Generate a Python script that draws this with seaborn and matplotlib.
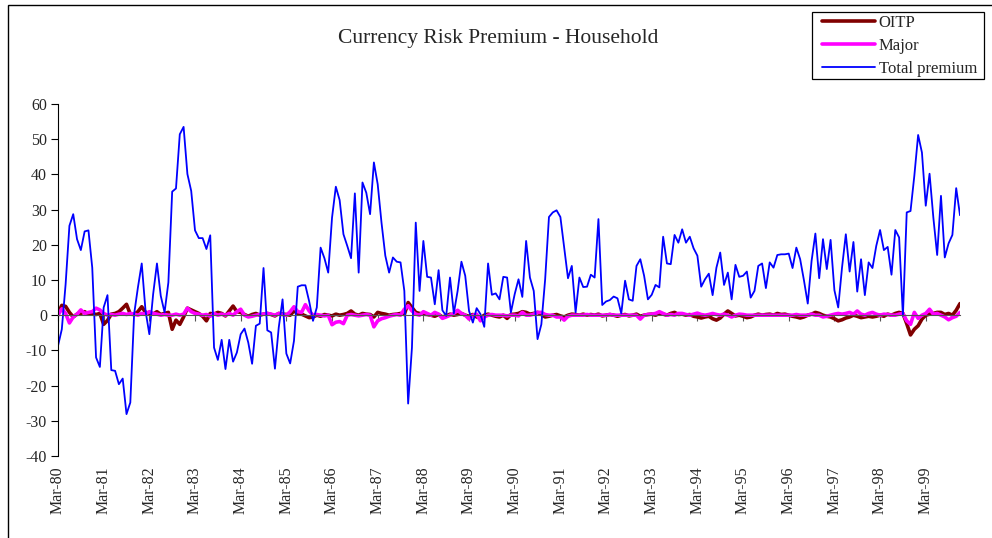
import numpy as np
import pandas as pd
import matplotlib
matplotlib.use("Agg")
import matplotlib.pyplot as plt
import seaborn as sns
from matplotlib.patches import Rectangle

# monthly series, Mar-80 .. Dec-99
total_premium = [
    -8.7, -4.0, 8.8, 25.4, 28.7, 21.6, 18.5, 23.8, 24.1, 13.5, -12.0, -14.7,
    2.2, 5.7, -15.6, -15.8, -19.6, -18.0, -28.1, -24.8, 0.3, 7.9, 14.7, 1.2,
    -5.4, 6.0, 14.7, 5.5, 0.8, 9.3, 35.1, 36.0, 51.4, 53.5, 40.1, 35.3,
    24.1, 21.9, 21.9, 18.8, 22.7, -9.2, -12.7, -7.0, -15.3, -7.0, -13.2, -10.6,
    -5.4, -3.8, -7.8, -13.8, -3.0, -2.4, 13.4, -4.3, -4.9, -15.2, -3.5, 4.5,
    -10.9, -13.7, -7.3, 8.1, 8.5, 8.5, 3.9, -1.6, 2.2, 19.2, 16.2, 12.1,
    27.7, 36.5, 32.7, 23.0, 19.7, 16.2, 34.6, 12.1, 37.7, 34.8, 28.7, 43.4,
    37.2, 26.3, 16.9, 12.1, 16.4, 15.2, 15.0, 6.9, -25.1, -9.2, 26.3, 6.9,
    21.1, 10.9, 10.7, 3.1, 12.8, 1.4, -0.2, 10.7, 0.5, 6.9, 15.2, 11.2,
    1.2, -2.1, 2.0, 0.3, -3.3, 14.7, 5.8, 6.2, 4.5, 10.9, 10.7, 0.8,
    6.0, 10.2, 5.2, 21.1, 10.7, 6.9, -6.8, -2.6, 10.2, 27.9, 29.2, 29.8,
    27.9, 19.2, 10.5, 14.0, 0.8, 10.7, 8.0, 8.1, 11.5, 10.7, 27.3, 2.9,
    3.9, 4.3, 5.3, 4.8, 0.5, 9.8, 4.5, 4.1, 14.0, 15.9, 11.2, 4.5,
    5.8, 8.6, 7.9, 22.3, 14.7, 14.5, 22.8, 20.6, 24.4, 20.6, 22.3, 19.0,
    16.9, 8.1, 10.2, 11.8, 5.7, 13.5, 17.8, 8.6, 12.1, 4.5, 14.3, 10.9,
    11.2, 12.4, 5.0, 6.9, 14.0, 14.7, 7.7, 15.0, 13.5, 17.1, 17.3, 17.3,
    17.5, 13.4, 19.2, 15.9, 9.9, 3.3, 15.4, 23.2, 10.5, 21.6, 13.1, 21.4,
    7.1, 2.2, 13.5, 23.0, 12.4, 20.8, 6.7, 15.9, 5.7, 15.0, 13.4, 19.7,
    24.2, 18.5, 19.4, 11.5, 24.2, 22.1, -0.2, 29.2, 29.6, 39.6, 51.2, 46.2,
    31.1, 40.2, 27.7, 17.1, 33.9, 16.4, 20.4, 22.8, 36.1, 28.4,
]

oitp = [
    0.5, 2.8, 2.5, 0.8, -0.5, 0.3, 0.5, 1.0, 0.3, 0.5, 0.2, 0.5,
    -2.6, -1.5, 0.3, 0.5, 1.0, 2.0, 3.1, 0.3, 0.2, 1.0, 2.4, 0.8,
    0.5, 0.3, 1.0, 0.2, 0.5, 0.8, -4.0, -1.4, -2.6, -0.5, 2.0, 1.5,
    1.0, 0.5, -0.3, -1.6, 0.5, 0.3, 0.8, 0.5, -0.2, 1.2, 2.6, 1.0,
    0.8, 0.2, -0.3, 0.2, 0.5, 0.0, 0.3, 0.5, 0.2, -0.2, 0.5, 0.3,
    0.2, 0.0, 1.2, 0.5, 0.3, -0.2, -0.7, -0.5, 0.0, -0.3, 0.2, 0.0,
    -0.2, 0.3, 0.0, 0.2, 0.5, 1.2, 0.3, 0.0, 0.5, 0.3, 0.2, -0.5,
    0.8, 0.5, 0.3, 0.0, 0.2, 0.3, 0.5, 0.2, 3.6, 2.2, 0.8, 0.5,
    0.3, 0.2, 0.0, -0.3, 0.2, -0.5, -0.2, 0.3, 0.0, 0.2, 0.5, 0.0,
    -0.3, 0.2, -0.5, -0.8, 0.0, 0.3, 0.0, -0.3, -0.5, 0.0, -0.9, 0.2,
    0.3, 0.5, 1.0, 0.8, 0.3, 0.5, 0.8, 0.2, -0.5, -0.3, 0.0, 0.2,
    -0.2, -0.5, 0.0, 0.3, 0.2, 0.0, 0.3, 0.0, 0.2, 0.0, 0.3, -0.2,
    0.0, 0.2, 0.0, -0.3, 0.0, 0.2, -0.2, 0.0, 0.3, -0.3, 0.0, 0.2,
    0.3, 0.0, 0.5, 0.3, 0.0, 0.5, 0.8, 0.2, 0.3, 0.0, 0.2, -0.3,
    -0.5, -0.8, -0.5, -0.3, -1.0, -1.4, -0.8, 0.3, 1.2, 0.5, -0.2, 0.0,
    -0.3, -0.7, -0.5, 0.0, 0.3, 0.0, 0.2, 0.3, 0.0, 0.5, 0.2, 0.3,
    0.0, -0.3, -0.5, -0.8, -0.5, 0.0, 0.3, 0.8, 0.5, 0.0, -0.3, -0.5,
    -1.0, -1.6, -1.3, -0.8, -0.5, 0.0, -0.3, -0.7, -0.5, -0.3, -0.5, -0.3,
    0.0, -0.3, 0.3, 0.0, 0.5, 0.8, 0.5, -2.4, -5.6, -4.0, -3.0, -1.1,
    0.0, 0.3, 0.5, 0.8, 0.8, 0.2, 0.5, 0.0, 1.4, 3.3,
]

major = [
    0.0, 1.8, 0.5, -2.2, -0.5, 0.3, 1.5, 0.5, 0.8, 1.0, 2.0, 1.5,
    0.5, 0.0, 0.2, 0.0, 0.3, 0.5, 0.2, 0.5, 0.3, 0.0, 0.5, 0.3,
    1.0, 0.5, 0.3, 0.0, 0.2, 0.0, 0.0, 0.3, 0.0, 0.3, 2.0, 1.0,
    0.5, 0.3, 0.0, 0.2, -0.3, 0.5, 0.0, 0.3, 0.0, 0.5, 0.0, 1.0,
    1.7, 0.0, -0.5, -0.3, 0.0, 0.2, 0.3, 0.5, 0.3, 0.0, 0.5, 0.2,
    0.0, 1.0, 2.4, 1.0, 0.8, 3.0, 1.2, 0.0, 0.2, 0.0, -0.2, 0.0,
    -2.7, -2.0, -1.8, -2.4, 0.0, 0.2, 0.0, -0.2, 0.0, 0.2, 0.0, -3.3,
    -1.6, -1.0, -0.7, -0.3, 0.0, 0.2, 0.0, 1.7, 2.7, 1.2, 0.3, 0.0,
    1.0, 0.5, 0.0, 0.8, 0.3, -0.9, -0.5, 0.0, 0.5, 1.4, 0.5, 0.0,
    -1.1, 0.0, 0.3, -1.6, -0.5, 0.0, 0.2, 0.0, 0.0, 0.0, -0.2, 0.0,
    0.0, -0.2, 0.8, 0.0, 0.0, 0.3, 0.8, 0.8, 0.2, 0.0, 0.0, -0.5,
    -0.5, -1.4, -0.3, 0.0, 0.0, 0.0, 0.0, 0.2, 0.0, 0.0, 0.0, 0.0,
    0.0, 0.2, 0.0, 0.0, 0.0, 0.0, 0.0, 0.0, 0.0, -1.1, 0.0, 0.2,
    0.3, 0.5, 1.0, 0.5, 0.0, 0.2, 0.0, 0.5, 0.5, 0.2, 0.0, 0.3,
    0.6, 0.2, 0.0, 0.2, 0.5, 0.2, 0.0, 0.3, 0.0, -0.5, 0.0, 0.3,
    0.2, 0.0, 0.0, 0.0, 0.0, 0.0, 0.0, 0.0, 0.0, 0.0, 0.0, 0.0,
    0.0, 0.0, 0.2, 0.0, 0.0, 0.0, 0.3, 0.0, 0.0, -0.5, -0.3, 0.0,
    0.3, 0.5, 0.3, 0.5, 0.8, 0.3, 1.2, 0.3, 0.0, 0.5, 0.8, 0.3,
    0.0, 0.3, 0.2, 0.0, 0.0, 0.3, 0.5, -1.6, -2.6, 0.8, -0.9, 0.0,
    0.5, 1.7, 0.3, 0.5, 0.0, -0.5, -1.3, -0.7, -0.3, 0.8,
]

year_labels = ["Mar-80", "Mar-81", "Mar-82", "Mar-83", "Mar-84", "Mar-85", "Mar-86",
               "Mar-87", "Mar-88", "Mar-89", "Mar-90", "Mar-91", "Mar-92", "Mar-93",
               "Mar-94", "Mar-95", "Mar-96", "Mar-97", "Mar-98", "Mar-99"]

df = pd.DataFrame({
    "month": np.arange(len(total_premium)),
    "OITP": oitp,
    "Major": major,
    "Total premium": total_premium,
})

sns.set_style("white")
plt.rcParams["font.family"] = ["Liberation Serif", "DejaVu Serif"]
plt.rcParams["axes.unicode_minus"] = False

fig = plt.figure(figsize=(9.92, 5.38), dpi=100)
ax = fig.add_axes([58 / 992, 82 / 538, 902 / 992, 352 / 538])

sns.lineplot(data=df, x="month", y="OITP", color="#800000", linewidth=2.6, ax=ax, label="OITP")
sns.lineplot(data=df, x="month", y="Major", color="#FF00FF", linewidth=2.6, ax=ax, label="Major")
sns.lineplot(data=df, x="month", y="Total premium", color="#0000FF", linewidth=1.3, ax=ax,
             label="Total premium")

ax.set_xlim(0, len(total_premium) - 1)
ax.set_ylim(-40, 60)
ax.set_yticks(range(-40, 61, 10))
ax.set_xticks(range(0, 12 * len(year_labels), 12))
ax.set_xticklabels(year_labels)
ax.set_xlabel("")
ax.set_ylabel("")

ax.spines["top"].set_visible(False)
ax.spines["right"].set_visible(False)
ax.spines["bottom"].set_position(("data", 0))
ax.spines["bottom"].set_color("#555555")
ax.spines["bottom"].set_linewidth(0.8)
ax.spines["left"].set_color("black")
ax.spines["left"].set_linewidth(0.8)
ax.tick_params(axis="y", direction="out", length=5, width=0.8, color="black",
               labelsize=11.5, pad=3, left=True)
ax.tick_params(axis="x", direction="out", length=4, width=0.8, color="#555555",
               labelsize=11.5, pad=105, bottom=True, labelrotation=90)

fig.text(0.502, 1 - 38 / 538, "Currency Risk Premium - Household", ha="center", va="center",
         fontsize=15.5)

# legend entries without their own frame; the box is drawn separately below
leg = ax.legend(loc="upper left", bbox_to_anchor=(822 / 992, 1 - 15 / 538),
                bbox_transform=fig.transFigure, fontsize=12, frameon=False,
                handlelength=3.2, handletextpad=0.2, labelspacing=0.42,
                borderpad=0, borderaxespad=0)
fig.patches.append(Rectangle((812 / 992, 1 - 79 / 538), 172 / 992, 67 / 538,
                             transform=fig.transFigure, fill=False, edgecolor="black",
                             linewidth=0.9, zorder=5))

# outer chart-area frame
fig.patches.append(Rectangle((8 / 992, -0.05), 1.1, 1.05 - 5 / 538, transform=fig.transFigure,
                             fill=False, edgecolor="black", linewidth=1.0, zorder=0))

fig.savefig("out.png", dpi=100)
